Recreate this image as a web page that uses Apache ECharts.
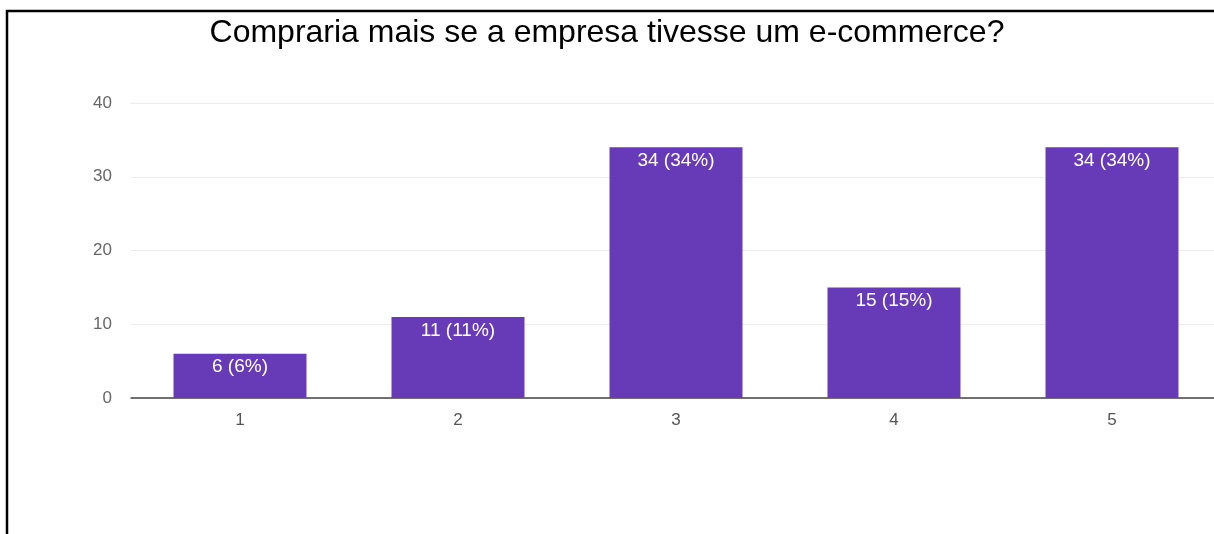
<!DOCTYPE html>
<html>
<head>
<meta charset="utf-8">
<script src="https://cdn.jsdelivr.net/npm/echarts@6/dist/echarts.min.js"></script>
<style>
  html, body { margin: 0; padding: 0; background: #fff; }
  #chart { width: 1214px; height: 534px; }
</style>
</head>
<body>
<div id="chart"></div>
<script>
// Survey answers on a 1–5 scale
const titleText = 'Compraria mais se a empresa tivesse um e-commerce?';
const categories = ['1', '2', '3', '4', '5'];
const counts = [6, 11, 34, 15, 34];
const percents = [6, 11, 34, 15, 34];

const chart = echarts.init(document.getElementById('chart'));

chart.setOption({
  animation: false,
  title: {
    text: titleText,
    left: 'center',
    top: 12,
    textStyle: {
      fontFamily: 'Liberation Sans, Arial, sans-serif',
      fontWeight: 'normal',
      fontSize: 32,
      color: '#000'
    }
  },
  graphic: [{
    type: 'rect',
    silent: true,
    shape: { x: 7, y: 11, width: 1400, height: 700 },
    style: { fill: 'none', stroke: '#000', lineWidth: 2.5 }
  }],
  // the plot runs a little past the right edge of the page
  grid: {
    left: 131, width: 1090, top: 103, height: 295,
    containLabel: false,
    outerBoundsMode: 'none'
  },
  xAxis: {
    type: 'category',
    data: categories,
    axisLine: { lineStyle: { color: '#444', width: 1.5 } },
    axisTick: { show: false },
    axisLabel: {
      color: '#555',
      fontFamily: 'Liberation Sans, Arial, sans-serif',
      fontSize: 17,
      margin: 14
    }
  },
  yAxis: {
    type: 'value',
    min: 0,
    max: 40,
    interval: 10,
    axisLine: { show: false },
    axisTick: { show: false },
    splitLine: { lineStyle: { color: '#ececec' } },
    axisLabel: {
      color: '#666',
      fontFamily: 'Liberation Sans, Arial, sans-serif',
      fontSize: 17,
      margin: 19
    }
  },
  series: [{
    type: 'bar',
    data: counts,
    barWidth: '61%',
    itemStyle: { color: '#673AB7' },
    label: {
      show: true,
      position: 'insideTop',
      distance: 4,
      color: '#fff',
      fontFamily: 'Liberation Sans, Arial, sans-serif',
      fontSize: 19,
      formatter: p => counts[p.dataIndex] + ' (' + percents[p.dataIndex] + '%)'
    }
  }]
});
</script>
</body>
</html>
